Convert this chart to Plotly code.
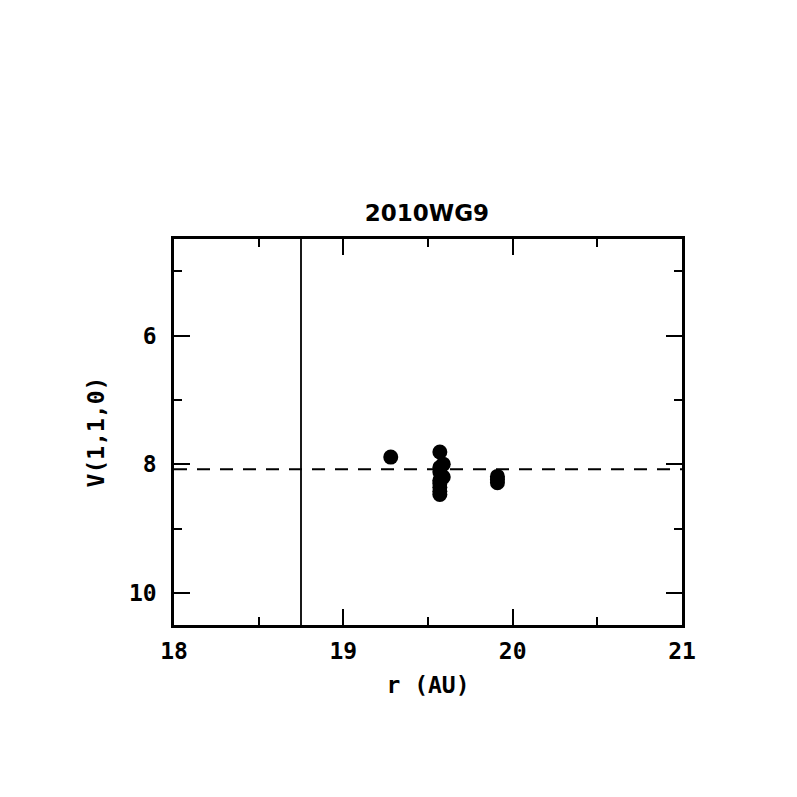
import plotly.graph_objects as go

# Data
r_au = [19.28, 19.57, 19.59, 19.57, 19.57, 19.59, 19.57, 19.57, 19.57, 19.57, 19.57, 19.91, 19.91, 19.91]
v110 = [7.89, 7.81, 8.00, 8.05, 8.12, 8.20, 8.25, 8.30, 8.36, 8.42, 8.47, 8.19, 8.24, 8.29]
mean_v = 8.08
r_limit = 18.75
title = "2010WG9"

FONT = "DejaVu Sans Mono"

fig = go.Figure()
fig.add_trace(go.Scatter(
    x=r_au, y=v110, mode="markers",
    marker=dict(color="black", size=15, line=dict(width=0)),
    showlegend=False,
))
fig.add_hline(y=mean_v, line=dict(color="black", width=2, dash="13px,10px"))
fig.add_vline(x=r_limit, line=dict(color="black", width=1.8))

tickfont = dict(family=FONT, size=23, color="black", weight="bold")
axis_common = dict(
    showgrid=False, zeroline=False, showline=True, linecolor="black", linewidth=2.5,
    mirror="allticks", ticks="inside", ticklen=16, tickwidth=2, tickcolor="black",
    tickfont=tickfont,
)

fig.update_xaxes(
    range=[18, 21], tickvals=[18, 19, 20, 21], ticktext=["18", "19", "20", "21"],
    ticklabelstandoff=4,
    title=dict(text="r (AU)", font=tickfont, standoff=14),
    minor=dict(ticks="inside", ticklen=8, tickwidth=2, tickcolor="black", dtick=0.5, showgrid=False),
    **axis_common,
)
fig.update_yaxes(
    range=[10.5, 4.5], tickvals=[6, 8, 10], ticktext=["6", "8", "10"],
    ticklabelstandoff=10,
    title=dict(text="V(1,1,0)", font=tickfont, standoff=18),
    minor=dict(ticks="inside", ticklen=8, tickwidth=2, tickcolor="black", tickvals=[5, 7, 9], showgrid=False),
    **axis_common,
)

fig.update_layout(
    width=797, height=797,
    margin=dict(l=166, r=123, t=231, b=180),
    paper_bgcolor="white", plot_bgcolor="white",
    title=dict(text=title, x=(427 - 8) / 797, xanchor="center", y=1 - (213 - 8) / 797, yanchor="middle",
               font=dict(family="DejaVu Sans", size=23, color="black", weight="bold")),
)

fig.write_html("out.html")
